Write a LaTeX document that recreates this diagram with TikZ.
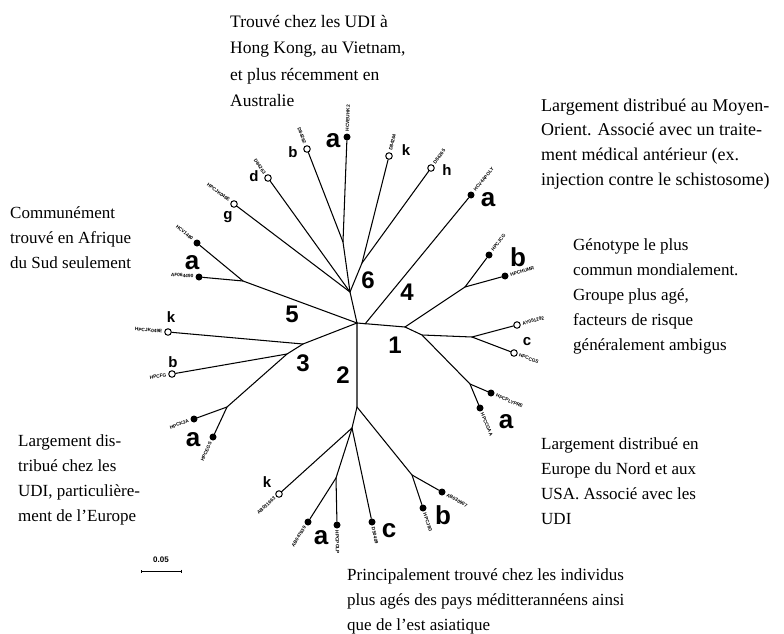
\documentclass[tikz,border=0pt]{standalone}
\usepackage{fontspec}
\setmainfont{Liberation Serif}
\setsansfont{Liberation Sans}
\usetikzlibrary{calc,arrows.meta}
\newcommand\strainlab[4]{\path (#1) -- ($(#2)!-5.5pt!(#1)$) node[pos=1, strain#3] {#4};}
\begin{document}
\begin{tikzpicture}[x=1pt,y=-1pt,
  branch/.style={line width=1.05pt, black, line join=round, line cap=round},
  fleaf/.style={circle, fill=black, inner sep=0pt, minimum size=7pt},
  oleaf/.style={circle, draw=black, fill=white, line width=1pt, inner sep=0pt, minimum size=6.5pt},
  strainbase/.style={sloped, inner sep=0pt, font=\sffamily\bfseries\fontsize{4.8}{5}\selectfont},
  strainR/.style={strainbase, anchor=west},
  strainL/.style={strainbase, anchor=east},
  gnum/.style={font=\sffamily\bfseries\fontsize{24}{24}\selectfont, inner sep=0pt},
  subbig/.style={font=\sffamily\bfseries\fontsize{26}{26}\selectfont, inner sep=0pt},
  subsmall/.style={font=\sffamily\bfseries\fontsize{15}{15}\selectfont, inner sep=0pt},
  note/.style={font=\fontsize{17}{25}\selectfont, align=left, anchor=west, inner sep=0pt},
]
\useasboundingbox[fill=white] (0,0) rectangle (784,634);

% internal nodes
\coordinate (R) at (357,323);
\coordinate (n6) at (350,292);
\coordinate (n6ab) at (343,242);
\coordinate (n6kh) at (362,263);
\coordinate (n4) at (365,324);
\coordinate (n1) at (405,327);
\coordinate (n1b) at (465,287);
\coordinate (n1ac) at (422,335);
\coordinate (n1c) at (472,337);
\coordinate (n1a) at (470,384);
\coordinate (n5) at (243,281);
\coordinate (n3) at (303,344);
\coordinate (n3b) at (287,354);
\coordinate (n3a) at (227,407);
\coordinate (n2) at (357,407);
\coordinate (n2b) at (412,475);
\coordinate (n2L) at (352,428);
\coordinate (n2a) at (336,478);

% leaves
\node[fleaf] (l6a) at (347,137) {};
\node[oleaf] (l6b) at (307,149) {};
\node[oleaf] (l6d) at (268,178) {};
\node[oleaf] (l6g) at (234,204) {};
\node[oleaf] (l6k) at (389,156) {};
\node[oleaf] (l6h) at (431,168) {};
\node[fleaf] (l4a) at (471,195) {};
\node[fleaf] (l1b1) at (489,255) {};
\node[fleaf] (l1b2) at (505,276) {};
\node[oleaf] (l1c1) at (517,325) {};
\node[oleaf] (l1c2) at (514,353) {};
\node[fleaf] (l1a1) at (491,393) {};
\node[fleaf] (l1a2) at (480,408) {};
\node[fleaf] (l5a1) at (197,243) {};
\node[fleaf] (l5a2) at (199,277) {};
\node[oleaf] (l3k) at (168,332) {};
\node[oleaf] (l3b) at (172,374) {};
\node[fleaf] (l3a1) at (194,419) {};
\node[fleaf] (l3a2) at (213,437) {};
\node[oleaf] (l2k) at (279,494) {};
\node[fleaf] (l2a1) at (308,522) {};
\node[fleaf] (l2a2) at (337,525) {};
\node[fleaf] (l2c) at (372,522) {};
\node[fleaf] (l2b1) at (442,492) {};
\node[fleaf] (l2b2) at (423,508) {};

% branches
\draw[branch] (R) -- (n6) -- (n6ab) -- (l6a);
\draw[branch] (n6ab) -- (l6b);
\draw[branch] (n6) -- (l6d);
\draw[branch] (n6) -- (l6g);
\draw[branch] (n6) -- (n6kh) -- (l6k);
\draw[branch] (n6kh) -- (l6h);
\draw[branch] (R) -- (n1);
\draw[branch] (n4) -- (l4a);
\draw[branch] (n1) -- (n1b) -- (l1b1);
\draw[branch] (n1b) -- (l1b2);
\draw[branch] (n1) -- (n1ac) -- (n1c) -- (l1c1);
\draw[branch] (n1c) -- (l1c2);
\draw[branch] (n1ac) -- (n1a) -- (l1a1);
\draw[branch] (n1a) -- (l1a2);
\draw[branch] (R) -- (n5) -- (l5a1);
\draw[branch] (n5) -- (l5a2);
\draw[branch] (R) -- (n3) -- (l3k);
\draw[branch] (n3) -- (n3b) -- (l3b);
\draw[branch] (n3b) -- (n3a) -- (l3a1);
\draw[branch] (n3a) -- (l3a2);
\draw[branch] (R) -- (n2) -- (n2b) -- (l2b1);
\draw[branch] (n2b) -- (l2b2);
\draw[branch] (n2) -- (n2L) -- (l2k);
\draw[branch] (n2L) -- (l2c);
\draw[branch] (n2L) -- (n2a) -- (l2a1);
\draw[branch] (n2a) -- (l2a2);

% strain labels
\strainlab{n6ab}{l6a}{R}{HCVEUHK2}
\strainlab{n6ab}{l6b}{L}{D84262}
\strainlab{n6}{l6d}{L}{D84263}
\strainlab{n6}{l6g}{L}{HPCJK046E}
\strainlab{n6kh}{l6k}{R}{D84264}
\strainlab{n6kh}{l6h}{R}{D84265}
\strainlab{n4}{l4a}{R}{HCV4APOLY}
\strainlab{n1b}{l1b1}{R}{HPCJCG}
\strainlab{n1b}{l1b2}{R}{HPCHUMR}
\strainlab{n1c}{l1c1}{R}{AY051292}
\strainlab{n1c}{l1c2}{R}{HPCCGS}
\strainlab{n1a}{l1a1}{R}{HPCPLYPRE}
\strainlab{n1a}{l1a2}{R}{HPCCGAA}
\strainlab{n5}{l5a1}{L}{HCV1480}
\strainlab{n5}{l5a2}{L}{AF064490}
\strainlab{n3}{l3k}{L}{HPCJK049E}
\strainlab{n3b}{l3b}{L}{HPCFG}
\strainlab{n3a}{l3a1}{L}{HPCK3A}
\strainlab{n3a}{l3a2}{L}{HPCEGS}
\strainlab{n2L}{l2k}{L}{AB031663}
\strainlab{n2a}{l2a1}{L}{AB047639}
\strainlab{n2a}{l2a2}{R}{HPCPOLP}
\strainlab{n2L}{l2c}{R}{D50409}
\strainlab{n2b}{l2b1}{R}{AB030907}
\strainlab{n2b}{l2b2}{R}{HPCJ8G}

% genotype numbers
\node[gnum] (g6) at (368,280) {6};
\node[gnum] (g4) at (407,292) {4};
\node[gnum] (g1) at (395,345) {1};
\node[gnum] (g5) at (292,314) {5};
\node[gnum] (g3) at (303,363) {3};
\node[gnum] (g2) at (343,375) {2};

% subtype letters
\node[subbig] (s6a) at (333,141) {a};
\node[subsmall] (s6b) at (293,152) {b};
\node[subsmall] (s6d) at (254,176) {d};
\node[subsmall] (s6g) at (228,217) {g};
\node[subsmall] (s6k) at (406,150) {k};
\node[subsmall] (s6h) at (447,170) {h};
\node[subbig] (s4a) at (488,200) {a};
\node[subbig] (s1b) at (518,257) {b};
\node[subsmall] (s1c) at (527,342) {c};
\node[subbig] (s1a) at (506,422) {a};
\node[subbig] (s5a) at (192,263) {a};
\node[subsmall] (s3k) at (171,317) {k};
\node[subsmall] (s3b) at (173,362) {b};
\node[subbig] (s3a) at (193,440) {a};
\node[subsmall] (s2k) at (267,482) {k};
\node[subbig] (s2a) at (321,538) {a};
\node[subbig] (s2c) at (389,531) {c};
\node[subbig] (s2b) at (443,515) {b};

% scale bar
\coordinate (sbL) at (141,571);
\coordinate (sbR) at (182,571);
\draw[line width=0.9pt, {Bar[width=3pt]}-{Bar[width=3pt]}] (sbL) -- (sbR);
\node[font=\sffamily\bfseries\fontsize{8}{8}\selectfont, inner sep=0pt] (sbT) at (161,560) {0.05};

% annotations
\node[note, font=\fontsize{17.5}{26.3}\selectfont] (tTop) at (230,61) {Trouvé chez les UDI à\\Hong Kong, au Vietnam,\\et plus récemment en\\Australie};
\node[note, font=\fontsize{18}{24.7}\selectfont] (tG4) at (541,144) {Largement distribué au Moyen-\\Orient. Associé avec un traite-\\ment médical antérieur (ex.\\injection contre le schistosome)};
\node[note] (tG1) at (573,296) {Génotype le plus\\commun mondialement.\\Groupe plus agé,\\facteurs de risque\\généralement ambigus};
\node[note] (tG5) at (10,238) {Communément\\trouvé en Afrique\\du Sud seulement};
\node[note] (tG3) at (18,480) {Largement dis-\\tribué chez les\\UDI, particulière-\\ment de l'Europe};
\node[note] (tG1a) at (541,481) {Largement distribué en\\Europe du Nord et aux\\USA. Associé avec les\\UDI};
\node[note] (tG2) at (347,601) {Principalement trouvé chez les individus\\plus agés des pays méditterannéens ainsi\\que de l'est asiatique};
\end{tikzpicture}
\end{document}
